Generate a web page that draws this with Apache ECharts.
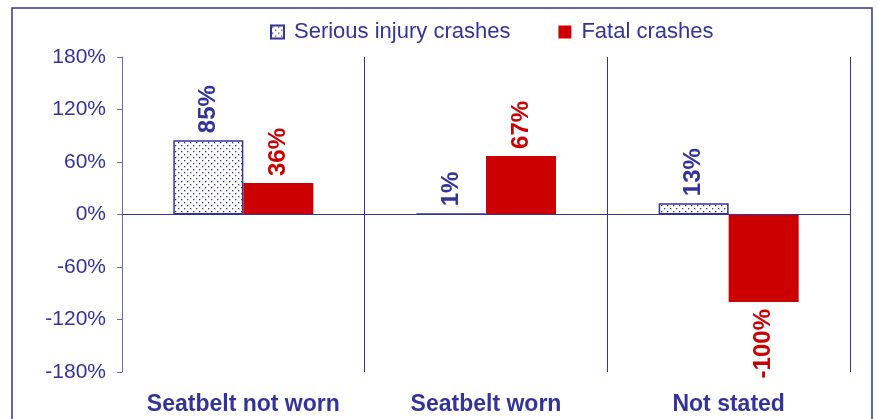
<!DOCTYPE html>
<html>
<head>
<meta charset="utf-8">
<style>
  html, body { margin: 0; padding: 0; background: #fff; }
  #chart { width: 878px; height: 419px; }
</style>
<script src="https://cdn.jsdelivr.net/npm/echarts@6/dist/echarts.min.js"></script>
</head>
<body>
<div id="chart"></div>
<script>
// data
const categories = ['Seatbelt not worn', 'Seatbelt worn', 'Not stated'];
const seriousInjury = [85, 1, 13];
const fatal = [36, 67, -100];
const yTicks = { min: -180, max: 180, interval: 60 };

const NAVY = '#333399';
const RED = '#cc0000';
const FONT = '"Liberation Sans", Arial, sans-serif';

// dotted fill for serious injury bars
const makeDots = () => {
  const c = document.createElement('canvas');
  c.width = 6; c.height = 6;
  const ctx = c.getContext('2d');
  ctx.fillStyle = '#fff';
  ctx.fillRect(0, 0, 6, 6);
  ctx.fillStyle = NAVY;
  ctx.fillRect(1, 1, 1.3, 1.3);
  ctx.fillRect(4, 4, 1.3, 1.3);
  return c;
};
const dots = makeDots();

const barLabel = (color) => ({
  show: true,
  position: 'top',
  distance: 7,
  rotate: 90,
  align: 'left',
  verticalAlign: 'middle',
  formatter: '{c}%',
  color: color,
  fontFamily: FONT,
  fontWeight: 'bold',
  fontSize: 24
});

const withNegLabels = (values, color) => values.map(v => v < 0
  ? { value: v, label: { position: 'bottom', align: 'right', distance: 7, color: color } }
  : v);

const chart = echarts.init(document.getElementById('chart'));

chart.setOption({
  animation: false,
  graphic: [{
    type: 'rect',
    shape: { x: 12, y: 8, width: 860, height: 430 },
    style: { fill: 'none', stroke: NAVY, lineWidth: 1.5 },
    silent: true
  }],
  legend: {
    left: 265,
    top: 16,
    itemWidth: 13,
    itemHeight: 13,
    itemGap: 48,
    textStyle: { color: NAVY, fontFamily: FONT, fontSize: 22, padding: [0, 0, 0, 5] },
    data: [
      { name: 'Serious injury crashes', icon: 'rect' },
      { name: 'Fatal crashes', icon: 'rect' }
    ]
  },
  grid: { left: 122, right: 28, top: 57, bottom: 47 },
  xAxis: {
    type: 'category',
    data: categories,
    axisLine: { show: false },
    axisTick: { show: false },
    axisLabel: {
      interval: 0,
      margin: 21,
      color: NAVY,
      fontFamily: FONT,
      fontWeight: 'bold',
      fontSize: 23
    },
    splitLine: { show: true, interval: 0, lineStyle: { color: NAVY, width: 1 } }
  },
  yAxis: {
    type: 'value',
    min: yTicks.min,
    max: yTicks.max,
    interval: yTicks.interval,
    axisLine: { show: true, lineStyle: { color: '#6a6aae', width: 1 } },
    axisTick: { show: true, length: 5, lineStyle: { color: '#6a6aae' } },
    splitLine: { show: false },
    axisLabel: {
      margin: 16,
      formatter: '{value}%',
      color: NAVY,
      fontFamily: FONT,
      fontSize: 21
    }
  },
  series: [
    {
      name: 'Serious injury crashes',
      type: 'bar',
      barWidth: 70,
      barGap: '0%',
      data: withNegLabels(seriousInjury, NAVY),
      itemStyle: {
        color: { image: dots, repeat: 'repeat' },
        borderColor: NAVY,
        borderWidth: 1.5
      },
      label: barLabel(NAVY),
      markLine: {
        silent: true,
        symbol: 'none',
        label: { show: false },
        lineStyle: { color: NAVY, type: 'solid', width: 1 },
        data: [{ yAxis: 0 }]
      }
    },
    {
      name: 'Fatal crashes',
      type: 'bar',
      barWidth: 70,
      barGap: '0%',
      data: withNegLabels(fatal, RED),
      itemStyle: { color: RED },
      label: barLabel(RED)
    }
  ]
});
</script>
</body>
</html>
